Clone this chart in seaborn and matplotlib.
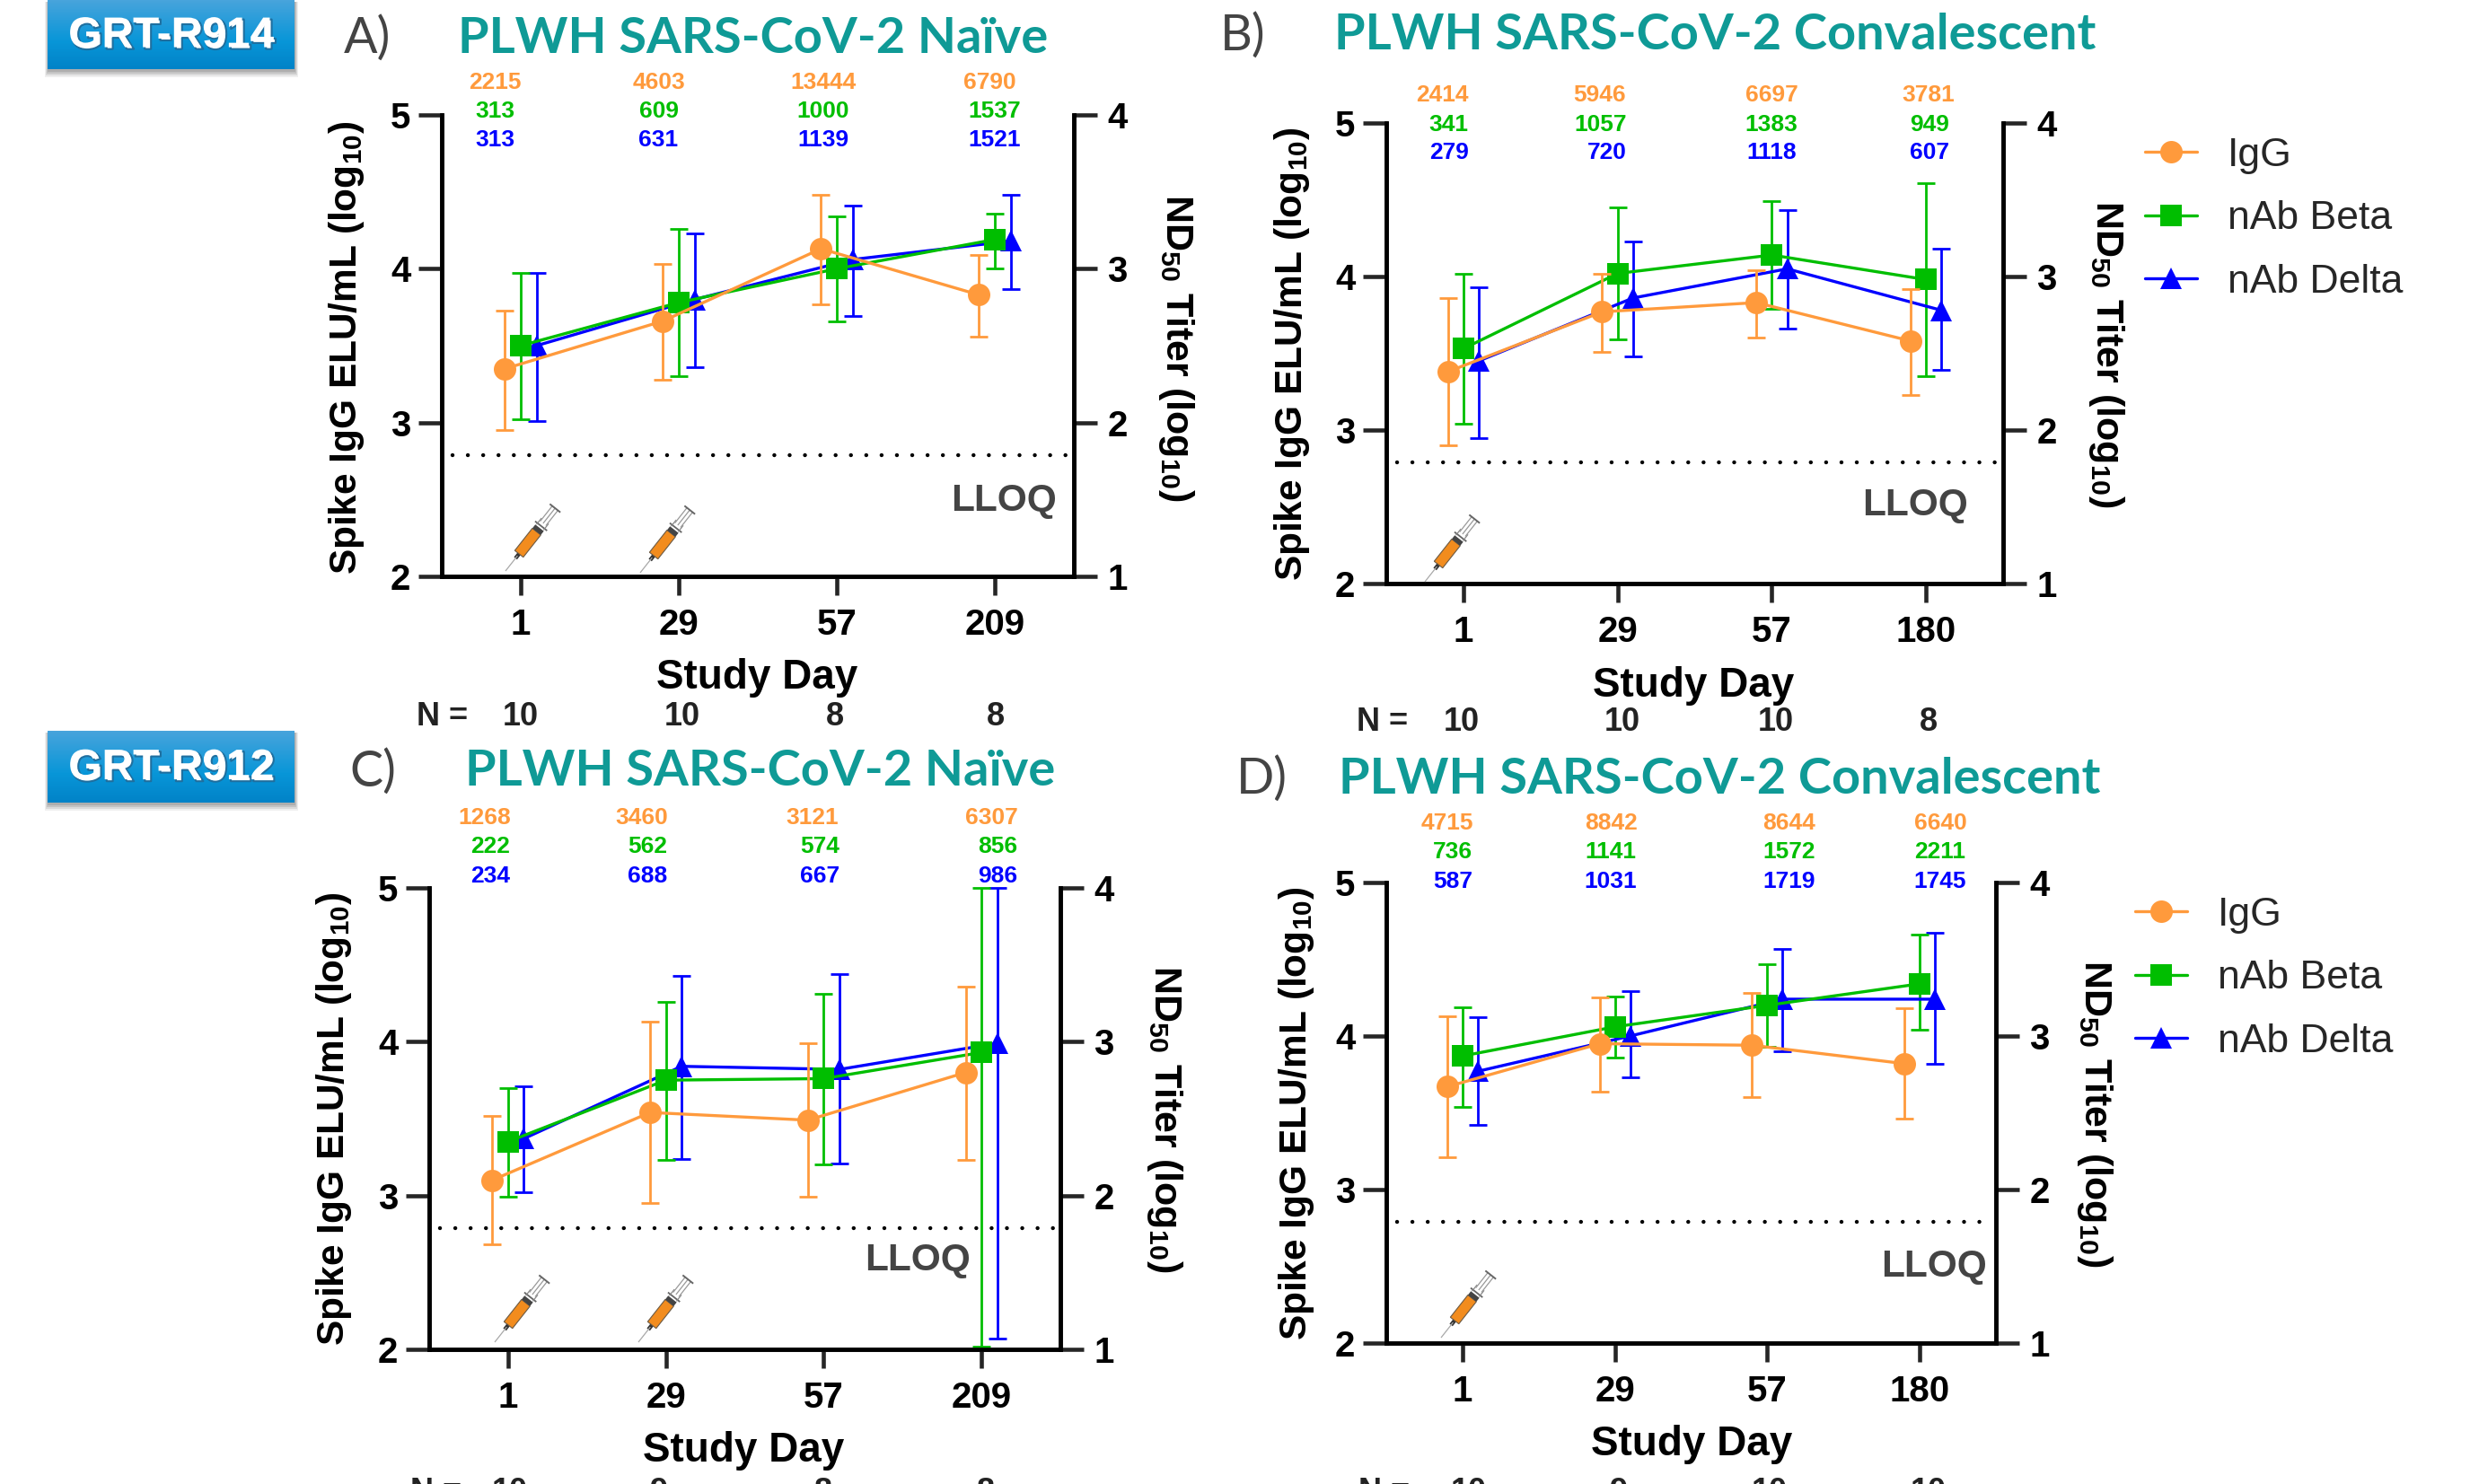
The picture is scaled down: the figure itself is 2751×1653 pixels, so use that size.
import matplotlib
matplotlib.use("Agg")
import matplotlib.pyplot as plt
import matplotlib.patheffects as pe
from matplotlib.lines import Line2D
from matplotlib.patches import Polygon, Rectangle
import numpy as np
import pandas as pd
import seaborn as sns

W, H = 2751, 1653
SERIES = ["IgG", "nAb Beta", "nAb Delta"]
ORANGE, GREEN, BLUE = "#FF9A3C", "#00BE00", "#0000FF"
TEAL = "#0F9A96"

# ---- data: IgG on left axis, nAb on right axis (log10)
a_days = ["1", "29", "57", "209"]
a_igg = [3.35, 3.66, 4.13, 3.83]; a_igg_lo = [2.95, 3.28, 3.77, 3.56]; a_igg_hi = [3.73, 4.03, 4.48, 4.09]
a_beta = [2.50, 2.78, 3.00, 3.19]; a_beta_lo = [2.02, 2.30, 2.66, 3.00]; a_beta_hi = [2.97, 3.26, 3.34, 3.36]
a_delta = [2.50, 2.80, 3.06, 3.18]; a_delta_lo = [2.01, 2.36, 2.69, 2.87]; a_delta_hi = [2.97, 3.23, 3.41, 3.48]
a_labels = [["2215", "4603", "13444", "6790"], ["313", "609", "1000", "1537"], ["313", "631", "1139", "1521"]]
a_n = ["10", "10", "8", "8"]

b_days = ["1", "29", "57", "180"]
b_igg = [3.38, 3.77, 3.83, 3.58]; b_igg_lo = [2.90, 3.51, 3.60, 3.23]; b_igg_hi = [3.86, 4.02, 4.04, 3.92]
b_beta = [2.53, 3.02, 3.14, 2.98]; b_beta_lo = [2.04, 2.59, 2.79, 2.35]; b_beta_hi = [3.02, 3.45, 3.49, 3.61]
b_delta = [2.45, 2.86, 3.05, 2.78]; b_delta_lo = [1.95, 2.48, 2.66, 2.39]; b_delta_hi = [2.93, 3.23, 3.43, 3.18]
b_labels = [["2414", "5946", "6697", "3781"], ["341", "1057", "1383", "949"], ["279", "720", "1118", "607"]]
b_n = ["10", "10", "10", "8"]

c_days = ["1", "29", "57", "209"]
c_igg = [3.10, 3.54, 3.49, 3.80]; c_igg_lo = [2.68, 2.95, 2.99, 3.23]; c_igg_hi = [3.52, 4.13, 3.99, 4.36]
c_beta = [2.35, 2.75, 2.76, 2.93]; c_beta_lo = [1.99, 2.23, 2.20, 1.02]; c_beta_hi = [2.70, 3.26, 3.31, 4.00]
c_delta = [2.37, 2.84, 2.82, 2.99]; c_delta_lo = [2.02, 2.24, 2.21, 1.07]; c_delta_hi = [2.71, 3.43, 3.44, 4.00]
c_labels = [["1268", "3460", "3121", "6307"], ["222", "562", "574", "856"], ["234", "688", "667", "986"]]
c_n = ["10", "9", "8", "8"]

d_days = ["1", "29", "57", "180"]
d_igg = [3.67, 3.95, 3.94, 3.82]; d_igg_lo = [3.21, 3.64, 3.60, 3.46]; d_igg_hi = [4.13, 4.25, 4.28, 4.18]
d_beta = [2.87, 3.06, 3.20, 3.34]; d_beta_lo = [2.54, 2.86, 2.93, 3.04]; d_beta_hi = [3.19, 3.26, 3.47, 3.66]
d_delta = [2.77, 3.00, 3.24, 3.24]; d_delta_lo = [2.42, 2.73, 2.90, 2.82]; d_delta_hi = [3.12, 3.29, 3.57, 3.67]
d_labels = [["4715", "8842", "8644", "6640"], ["736", "1141", "1572", "2211"], ["587", "1031", "1719", "1745"]]
d_n = ["10", "9", "10", "10"]

sns.set_theme(style="ticks")
ARIAL = "Liberation Sans"
plt.rcParams["font.family"] = [ARIAL, "DejaVu Sans"]
plt.rcParams["mathtext.fontset"] = "custom"
plt.rcParams["mathtext.rm"] = ARIAL
plt.rcParams["mathtext.bf"] = ARIAL + ":bold"

fig = plt.figure(figsize=(W / 100, H / 100), dpi=100, facecolor="white")

over = fig.add_axes([0, 0, 1, 1], zorder=10)
over.set_xlim(0, W); over.set_ylim(H, 0); over.axis("off"); over.patch.set_alpha(0)

LW = 3.3


def syringe(tx, ty, dx=0.62, dy=-0.785, L=90):
    nx, ny = -dy, dx
    def pt(t, w):
        return (tx + dx * L * t + nx * w, ty + dy * L * t + ny * w)
    def quad(t0, t1, w, color):
        over.add_patch(Polygon([pt(t0, -w), pt(t1, -w), pt(t1, w), pt(t0, w)], closed=True, fc=color, ec="none"))
    def seg(t0, w0, t1, w1, color, lw):
        over.plot(*zip(pt(t0, w0), pt(t1, w1)), color=color, lw=lw, solid_capstyle="butt")
    seg(0, 0, 0.24, 0, "#a8a8a8", 0.9)
    quad(0.2, 0.28, 2.2, "#333333")
    quad(0.27, 0.62, 6.0, "#F28C1E")
    over.add_patch(Polygon([pt(0.27, -6.0), pt(0.62, -6.0), pt(0.62, 6.0), pt(0.27, 6.0)], closed=True, fc="none", ec="#6b5a45", lw=0.8))
    quad(0.62, 0.68, 6.0, "#444444")
    seg(0.71, -8.5, 0.71, 8.5, "#666666", 1.3)
    seg(0.69, -5, 0.79, -5, "#888888", 0.9)
    seg(0.69, 5, 0.79, 5, "#888888", 0.9)
    for w in (-4, 0, 4):
        seg(0.75, w, 0.99, w, "#999999", 0.9)
    seg(0.99, -7.5, 0.99, 7.5, "#666666", 1.4)


def badge(text, x0, y0, x1, y1):
    for grow, alpha in ((7, 0.12), (5, 0.18), (3, 0.25), (1, 0.3)):
        over.add_patch(Rectangle((x0 - grow / 2, y0 + 2), x1 - x0 + grow, y1 - y0 + grow, fc="#808080", ec="none", alpha=alpha, zorder=1))
    inset = fig.add_axes([x0 / W, 1 - y1 / H, (x1 - x0) / W, (y1 - y0) / H], zorder=11)
    inset.axis("off")
    top, mid, bottom = np.array([0x48, 0xA4, 0xDC]), np.array([0x08, 0x96, 0xD8]), np.array([0x02, 0x83, 0xC8])
    t = np.linspace(0, 1, 64)[:, None, None]
    grad = np.where(t < 0.6, top + (mid - top) * t / 0.6, mid + (bottom - mid) * (t - 0.6) / 0.4)
    inset.imshow(grad.astype(np.uint8), aspect="auto", extent=(0, 1, 0, 1))
    inset.text(0.5, 0.48, text, color="white", fontsize=34.5, fontweight="bold", fontfamily=ARIAL,
               ha="center", va="center", transform=inset.transAxes,
               path_effects=[pe.Stroke(linewidth=1.5, foreground="#1f6f9f", offset=(1.5, -1.5)), pe.Normal()])


def panel(box, days, igg, beta, delta, labels, n, layout):
    l, r, t, b = box
    ax = fig.add_axes([l / W, 1 - b / H, (r - l) / W, (b - t) / H], zorder=3)
    ax2 = ax.twinx()
    ax.set_zorder(4); ax2.set_zorder(3); ax.patch.set_visible(False)
    pos = np.arange(len(days), dtype=float)
    specs = [
        (ax, igg, -0.1, ORANGE, "o", 18, "IgG"),
        (ax2, beta, 0.0, GREEN, "s", 17, "nAb Beta"),
        (ax2, delta, 0.1, BLUE, "^", 17.5, "nAb Delta"),
    ]
    for a, (m, lo, hi), off, col, mk, ms, name in specs[::-1]:
        m, lo, hi = map(np.asarray, (m, lo, hi))
        df = pd.DataFrame({"x": pos + off, "y": m})
        sns.lineplot(data=df, x="x", y="y", ax=a, color=col, lw=2.4, marker=mk, markersize=ms,
                     markeredgecolor=col, markeredgewidth=0, errorbar=None, legend=False, zorder=5)
        a.errorbar(pos + off, m, yerr=[m - lo, hi - m], fmt="none", ecolor=col, elinewidth=2.0,
                   capsize=7.5, capthick=2.0, zorder=4, clip_on=False)
    ax.set_xlim(-0.5, 3.5)
    ax.set_ylim(2, 5); ax2.set_ylim(1, 4)
    ax.set_yticks([2, 3, 4, 5]); ax2.set_yticks([1, 2, 3, 4])
    ax.set_xticks(pos); ax.set_xticklabels(days)
    ax.plot([-0.43, 3.47], [2.79, 2.79], color="black", lw=3.2, ls=(0, (0.01, 3.83)), dash_capstyle="round", zorder=1)
    ax.set_xlabel(""); ax.set_ylabel(""); ax2.set_ylabel("")
    for a in (ax, ax2):
        a.spines["top"].set_visible(False)
        for s in a.spines.values():
            s.set_linewidth(LW); s.set_color("black")
        for lab in a.get_yticklabels() + a.get_xticklabels():
            lab.set_fontweight("bold"); lab.set_fontsize(29); lab.set_color("black")
    ax.tick_params(axis="y", length=19, width=LW, pad=6)
    ax.tick_params(axis="x", length=15, width=LW, pad=10)
    ax2.tick_params(axis="y", length=19, width=LW, pad=8)

    kw = dict(ha="center", va="center", color="black", fontweight="bold")
    over.text(*layout["yl"], r"Spike IgG ELU/mL (log$_{\mathbf{10}}$)", rotation=90, fontsize=30.5, **kw)
    over.text(*layout["yr"], r"ND$_{\mathbf{50}}$ Titer (log$_{\mathbf{10}}$)", rotation=270, fontsize=31, **kw)
    over.text(layout["xl"][0], layout["xl"][1] + 3, "Study Day", fontsize=33, **kw)
    over.text(layout["lloq"][0], layout["lloq"][1] + 3, "LLOQ", fontsize=30.5, ha="center", va="center", color="#444444", fontweight="bold")
    over.text(layout["title"][0], layout["title"][1] + 5, layout["title_text"], fontsize=40.3, color=TEAL, ha="left", va="center",
              fontweight="bold", fontfamily=["Lato", "DejaVu Sans"])
    over.text(layout["letter"][0], layout["letter"][1] + 3, layout["letter_text"], fontsize=40, color="#444444", ha="left", va="center",
              fontfamily=["Lato", "DejaVu Sans"])
    for row, (col, ypx) in enumerate(zip((ORANGE, GREEN, BLUE), layout["rows"])):
        for j, s in enumerate(labels[row]):
            over.text(layout["row_x"][row][j], ypx + 2, s, color=col, fontsize=19, fontweight="bold",
                      ha="center", va="center")
    over.text(layout["n_x"][0], layout["n_y"] + 2, "N =", fontsize=26, ha="center", va="center", fontweight="bold", color="#222222")
    for xpx, s in zip(layout["n_x"][1:], n):
        over.text(xpx, layout["n_y"] + 2, s, fontsize=26, ha="center", va="center", fontweight="bold", color="#222222")
    for tip in layout["syr"]:
        syringe(*tip)


def add_legend(xpx, ypx):
    handles = [Line2D([], [], color=c, marker=m, ms=ms, mew=0, lw=2.4)
               for c, m, ms in ((ORANGE, "o", 18), (GREEN, "s", 17), (BLUE, "^", 17.5))]
    fig.legend(handles, SERIES, loc="upper left", bbox_to_anchor=(xpx / W, 1 - ypx / H), frameon=False,
               fontsize=32, handlelength=1.3, handletextpad=0.76, labelspacing=0.66,
               borderpad=0, borderaxespad=0)


panel((492, 1196, 128, 642), a_days, (a_igg, a_igg_lo, a_igg_hi), (a_beta, a_beta_lo, a_beta_hi),
      (a_delta, a_delta_lo, a_delta_hi), a_labels, a_n, dict(
    yl=(386, 387), yr=(1310, 387), xl=(843, 752), lloq=(1118, 555),
    title=(510, 38), title_text="PLWH SARS-CoV-2 Naïve", letter=(383, 40), letter_text="A)",
    rows=(90, 122, 154), row_x=[[551, 734, 917, 1102], [551, 734, 917, 1108], [551, 733, 917, 1108]],
    n_x=(493, 580, 760, 930, 1109), n_y=796, syr=[(563, 636), (713, 638)]))

panel((1544, 2231, 137, 650), b_days, (b_igg, b_igg_lo, b_igg_hi), (b_beta, b_beta_lo, b_beta_hi),
      (b_delta, b_delta_lo, b_delta_hi), b_labels, b_n, dict(
    yl=(1439, 394), yr=(2346, 394), xl=(1886, 761), lloq=(2133, 560),
    title=(1486, 34), title_text="PLWH SARS-CoV-2 Convalescent", letter=(1359, 37), letter_text="B)",
    rows=(104, 137, 168), row_x=[[1606, 1782, 1973, 2148], [1613, 1783, 1973, 2149], [1614, 1790, 1973, 2149]],
    n_x=(1540, 1628, 1807, 1978, 2148), n_y=803, syr=[(1587, 648)]))

panel((478, 1181, 989, 1503), c_days, (c_igg, c_igg_lo, c_igg_hi), (c_beta, c_beta_lo, c_beta_hi),
      (c_delta, c_delta_lo, c_delta_hi), c_labels, c_n, dict(
    yl=(372, 1246), yr=(1297, 1246), xl=(828, 1613), lloq=(1022, 1401),
    title=(518, 854), title_text="PLWH SARS-CoV-2 Naïve", letter=(389, 857), letter_text="C)",
    rows=(909, 941, 974), row_x=[[540, 715, 905, 1104], [546, 721, 913, 1111], [546, 721, 913, 1111]],
    n_x=(486, 568, 734, 917, 1098), n_y=1660, syr=[(551, 1495), (711, 1495)]))

panel((1544, 2223, 983, 1496), d_days, (d_igg, d_igg_lo, d_igg_hi), (d_beta, d_beta_lo, d_beta_hi),
      (d_delta, d_delta_lo, d_delta_hi), d_labels, d_n, dict(
    yl=(1444, 1240), yr=(2333, 1240), xl=(1884, 1606), lloq=(2154, 1408),
    title=(1491, 863), title_text="PLWH SARS-CoV-2 Convalescent", letter=(1377, 865), letter_text="D)",
    rows=(915, 947, 980), row_x=[[1612, 1794, 1993, 2161], [1618, 1794, 1993, 2161], [1618, 1794, 1993, 2161]],
    n_x=(1542, 1636, 1803, 1971, 2148), n_y=1660, syr=[(1605, 1490)]))

add_legend(2389, 153)
add_legend(2378, 999)

badge("GRT-R914", 53, 0, 328, 77)
badge("GRT-R912", 53, 814, 328, 894)

fig.savefig("out.png", dpi=100, facecolor="white")
